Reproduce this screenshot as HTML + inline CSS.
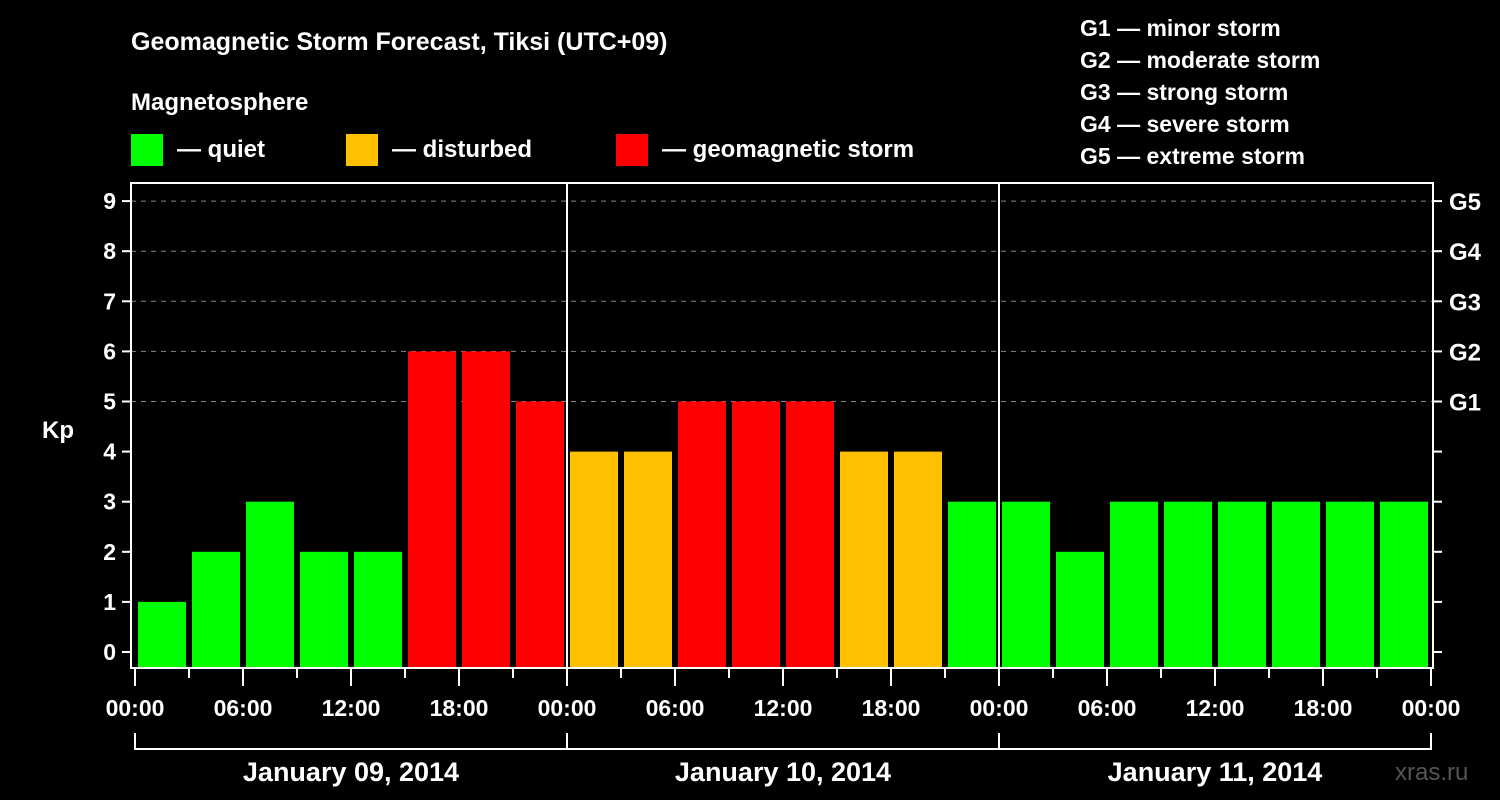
<!DOCTYPE html>
<html><head><meta charset="utf-8"><style>
html,body{margin:0;padding:0;background:#000;}
svg{display:block;font-family:"Liberation Sans",sans-serif;font-weight:bold;}
</style></head><body>
<svg id="c" width="1500" height="800" viewBox="0 0 1500 800">
<rect width="1500" height="800" fill="#000"/>
<text x="131" y="50" font-size="25" fill="#fff">Geomagnetic Storm Forecast, Tiksi (UTC+09)</text>
<text x="131" y="110" font-size="24" fill="#fff">Magnetosphere</text>
<g><rect x="131" y="134" width="32" height="32" fill="#00ff00"/><text x="177" y="157" font-size="24" fill="#fff">— quiet</text></g>
<g><rect x="346" y="134" width="32" height="32" fill="#ffc000"/><text x="392" y="157" font-size="24" fill="#fff">— disturbed</text></g>
<g><rect x="616" y="134" width="32" height="32" fill="#ff0000"/><text x="662" y="157" font-size="24" fill="#fff">— geomagnetic storm</text></g>
<g font-size="23" fill="#fff">
<text x="1080" y="36">G1 — minor storm</text>
<text x="1080" y="68">G2 — moderate storm</text>
<text x="1080" y="100">G3 — strong storm</text>
<text x="1080" y="132">G4 — severe storm</text>
<text x="1080" y="164">G5 — extreme storm</text>
</g>
<text x="42" y="438" font-size="24" fill="#fff">Kp</text>
<text x="1395" y="780" font-size="24" fill="#555" font-weight="normal">xras.ru</text>
<g id="plot"></g>
</svg>
<script>
const kpValues=[1,2,3,2,2,6,6,5,4,4,5,5,5,4,4,3,3,2,3,3,3,3,3,3];
const yTicks=[0,1,2,3,4,5,6,7,8,9];
const gLabels=["G1","G2","G3","G4","G5"];
const timeLabels=["00:00","06:00","12:00","18:00"];
const dayLabels=["January 09, 2014","January 10, 2014","January 11, 2014"];
const NS="http://www.w3.org/2000/svg";
const g=document.getElementById('plot');
const x0=135,pxH=18,y0=652,pxK=50.1;
const X=h=>x0+h*pxH, Y=k=>y0-k*pxK;
function el(t,a,txt){const e=document.createElementNS(NS,t);for(const k in a)e.setAttribute(k,a[k]);if(txt!==undefined)e.textContent=txt;g.appendChild(e);return e;}
// grid
yTicks.filter(k=>k>=5).forEach(k=>{const e=el('line',{x1:131,x2:1433,y1:Y(k),y2:Y(k),stroke:'#888','stroke-dasharray':'5,5','stroke-width':1});

});
// bars
kpValues.forEach((v,i)=>{const c=v>=5?'#ff0000':(v>=4?'#ffc000':'#00ff00');
const r=el('rect',{x:X(i*3)+3,y:Y(v),width:3*pxH-6,height:668-Y(v),fill:c});

});
// frame and day dividers
const f=el('rect',{x:131,y:183,width:1302,height:485,fill:'none',stroke:'#fff','stroke-width':2});


[1,2].forEach(d=>{const l=el('line',{x1:X(d*24),x2:X(d*24),y1:183,y2:668,stroke:'#fff','stroke-width':2});

});
// y ticks
yTicks.forEach(k=>{el('line',{x1:122,x2:131,y1:Y(k),y2:Y(k),stroke:'#fff','stroke-width':2});
el('line',{x1:1433,x2:1442,y1:Y(k),y2:Y(k),stroke:'#fff','stroke-width':2});
const t=el('text',{x:116,y:Y(k)+8,'font-size':23,fill:'#fff','text-anchor':'end'},k);

});
gLabels.forEach((s,i)=>{const t=el('text',{x:1449,y:Y(5+i)+9,'font-size':24,fill:'#fff'},s);

});
// x ticks
for(let h=0;h<=72;h+=3){const maj=h%6===0;el('line',{x1:X(h),x2:X(h),y1:669,y2:maj?686:678,stroke:'#fff','stroke-width':2});}
for(let h=0;h<=72;h+=6){const t=el('text',{x:X(h),y:716,'font-size':23,fill:'#fff','text-anchor':'middle'},timeLabels[(h/6)%4]);

}
// day brackets
el('line',{x1:X(0),x2:X(72),y1:749,y2:749,stroke:'#fff','stroke-width':2});
for(let d=0;d<=3;d++)el('line',{x1:X(d*24),x2:X(d*24),y1:733,y2:750,stroke:'#fff','stroke-width':2});
dayLabels.forEach((s,d)=>{const t=el('text',{x:X(d*24+12),y:781,'font-size':27,fill:'#fff','text-anchor':'middle'},s);

});
</script>
</body></html>
